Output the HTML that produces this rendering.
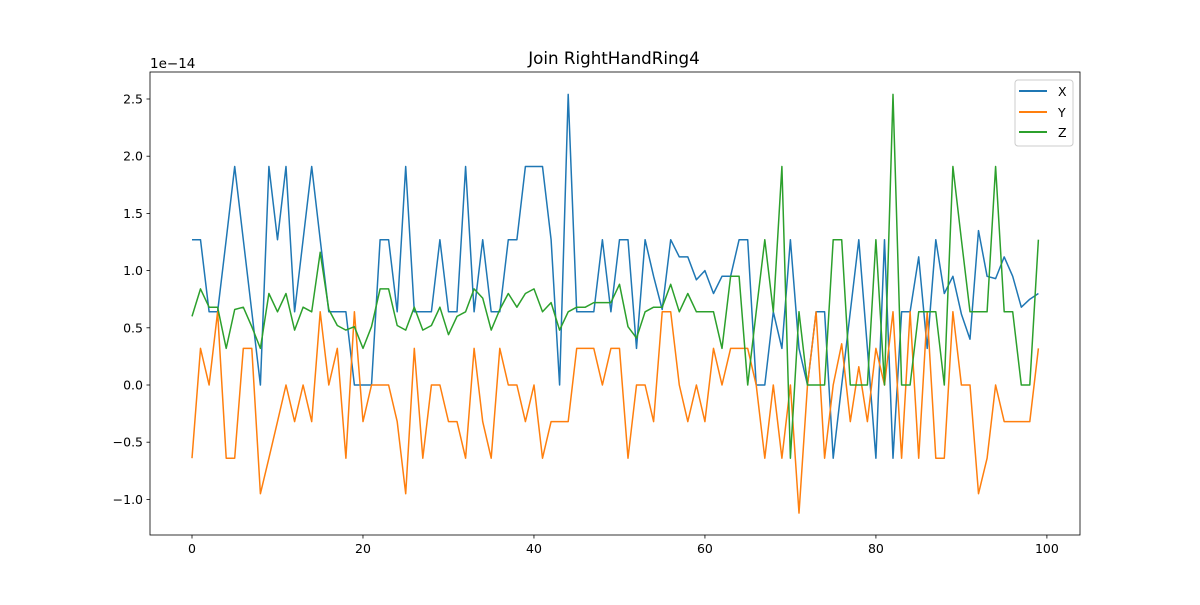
<!DOCTYPE html>
<html><head><meta charset="utf-8"><style>
body{margin:0;background:#fff;font-family:"Liberation Sans","DejaVu Sans",sans-serif;}
svg text{font-family:"DejaVu Sans","Liberation Sans",sans-serif;}
</style></head><body>
<svg id="chart" width="1200" height="600" xmlns="http://www.w3.org/2000/svg">
<rect width="1200" height="600" fill="#fff"/>
<text x="614" y="64" font-size="16.7" text-anchor="middle">Join RightHandRing4</text>
<text x="150" y="68" font-size="13.5">1e−14</text>
<g id="grid"></g>
<g id="series"></g>
<rect x="150" y="72" width="930" height="463" fill="none" stroke="#000" stroke-width="0.8"/>
<g id="axes"></g>
<g>
<rect x="1015" y="80" width="58" height="66" rx="3" fill="#fff" fill-opacity="0.8" stroke="#ccc"/>
<line x1="1019" y1="91" x2="1047" y2="91" stroke="#1f77b4" stroke-width="2"/>
<text x="1058" y="96" font-size="12.5">X</text>
<line x1="1019" y1="112" x2="1047" y2="112" stroke="#ff7f0e" stroke-width="2"/>
<text x="1058" y="117" font-size="12.5">Y</text>
<line x1="1019" y1="132" x2="1047" y2="132" stroke="#2ca02c" stroke-width="2"/>
<text x="1058" y="137" font-size="12.5">Z</text>
</g>
</svg>
<script>
const xTicks=[0,20,40,60,80,100];
const yTicks=[-1.0,-0.5,0.0,0.5,1.0,1.5,2.0,2.5];
const seriesX=[1.27,1.27,0.64,0.64,1.27,1.91,1.27,0.64,0,1.91,1.27,1.91,0.64,1.27,1.91,1.27,0.64,0.64,0.64,0,0,0,1.27,1.27,0.64,1.91,0.64,0.64,0.64,1.27,0.64,0.64,1.91,0.64,1.27,0.64,0.64,1.27,1.27,1.91,1.91,1.91,1.27,0,2.54,0.64,0.64,0.64,1.27,0.64,1.27,1.27,0.32,1.27,0.95,0.66,1.27,1.12,1.12,0.92,1.0,0.80,0.95,0.95,1.27,1.27,0,0,0.64,0.32,1.27,0.32,0,0.64,0.64,-0.64,0,0.64,1.27,0.32,-0.64,1.27,-0.64,0.64,0.64,1.12,0.32,1.27,0.80,0.95,0.62,0.40,1.35,0.95,0.93,1.12,0.95,0.68,0.75,0.80];
const seriesY=[-0.64,0.32,0,0.64,-0.64,-0.64,0.32,0.32,-0.95,-0.64,-0.32,0,-0.32,0,-0.32,0.64,0,0.32,-0.64,0.64,-0.32,0,0,0,-0.32,-0.95,0.32,-0.64,0,0,-0.32,-0.32,-0.64,0.32,-0.32,-0.64,0.32,0,0,-0.32,0,-0.64,-0.32,-0.32,-0.32,0.32,0.32,0.32,0,0.32,0.32,-0.64,0,0,-0.32,0.64,0.64,0,-0.32,0,-0.32,0.32,0,0.32,0.32,0.32,0,-0.64,0,-0.64,0,-1.12,0,0.64,-0.64,0,0.36,-0.32,0.16,-0.32,0.32,0,0.64,-0.64,0.64,-0.64,0.64,-0.64,-0.64,0.64,0,0,-0.95,-0.64,0,-0.32,-0.32,-0.32,-0.32,0.32];
const seriesZ=[0.60,0.84,0.68,0.68,0.32,0.66,0.68,0.51,0.32,0.80,0.64,0.80,0.48,0.68,0.64,1.16,0.66,0.52,0.48,0.51,0.32,0.51,0.84,0.84,0.52,0.48,0.68,0.48,0.52,0.68,0.44,0.60,0.64,0.84,0.76,0.48,0.66,0.80,0.68,0.80,0.84,0.64,0.72,0.48,0.64,0.68,0.68,0.72,0.72,0.72,0.88,0.51,0.41,0.64,0.68,0.68,0.88,0.64,0.80,0.64,0.64,0.64,0.32,0.95,0.95,0,0.64,1.27,0.64,1.91,-0.64,0.64,0,0,0,1.27,1.27,0,0,0,1.27,0,2.54,0,0,0.64,0.64,0.64,0,1.91,1.27,0.64,0.64,0.64,1.91,0.64,0.64,0,0,1.27];
const NS="http://www.w3.org/2000/svg";
function sx(i){return 192+8.549*i;}
function sy(v){return 385-114.4*v;}
const axes=document.getElementById('axes');
function mk(tag,attrs,parent){const e=document.createElementNS(NS,tag);for(const k in attrs)e.setAttribute(k,attrs[k]);parent.appendChild(e);return e;}
xTicks.forEach(t=>{
  const l=mk('line',{x1:sx(t),x2:sx(t),y1:535,y2:538.5,stroke:'#000','stroke-width':0.8},axes);
  
  
  const tx=mk('text',{x:sx(t),y:553,'font-size':12.5,'text-anchor':'middle'},axes);
  tx.textContent=String(t);
  
  
});
yTicks.forEach(t=>{
  const l=mk('line',{x1:146.5,x2:150,y1:sy(t),y2:sy(t),stroke:'#000','stroke-width':0.8},axes);
  
  
  const tx=mk('text',{x:143,y:sy(t)+4.5,'font-size':12.5,'text-anchor':'end'},axes);
  tx.textContent=(t<0?'−':'')+Math.abs(t).toFixed(1);
  
  
});
const sg=document.getElementById('series');
[[seriesX,'#1f77b4','series-x'],[seriesY,'#ff7f0e','series-y'],[seriesZ,'#2ca02c','series-z']].forEach(([d,c,n])=>{
  const pts=d.map((v,i)=>sx(i).toFixed(1)+','+sy(v).toFixed(1)).join(' ');
  const p=mk('polyline',{points:pts,fill:'none',stroke:c,'stroke-width':1.5,'stroke-linejoin':'round'},sg);
  
  
});
</script>
</body></html>
